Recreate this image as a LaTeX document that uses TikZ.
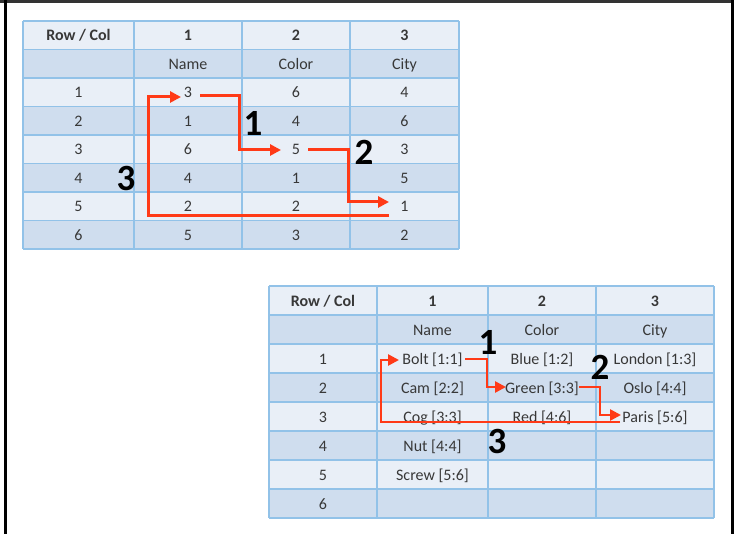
\documentclass[tikz,border=0pt]{standalone}
\usepackage{fontspec}
\setmainfont{Carlito}
\usetikzlibrary{arrows.meta}
\definecolor{lightrow}{HTML}{E9EFF7}
\definecolor{darkrow}{HTML}{CFDDEE}
\definecolor{gridblue}{HTML}{92C2E8}
\definecolor{arrowred}{HTML}{FF3A17}
\definecolor{celltext}{HTML}{383838}
\tikzset{
  cell/.style={anchor=base, inner sep=0pt, text=celltext, font=\fontsize{16bp}{19bp}\selectfont},
  headcell/.style={cell, font=\fontsize{16bp}{19bp}\selectfont\bfseries},
  steplabel/.style={inner sep=0pt, font=\fontsize{37bp}{44bp}\selectfont\bfseries, text=black},
  flow/.style={draw=arrowred, line width=3bp, -{Triangle[length=11bp,width=11bp]}},
  flowb/.style={flow, line width=2.6bp},
  gridline/.style={draw=gridblue, line width=1.6bp},
}
\begin{document}
\begin{tikzpicture}[x=1bp,y=-1bp]
\useasboundingbox (0,0) rectangle (737,534);
\fill[white] (0,0) rectangle (737,534);
% frame
\draw[line width=2.7bp, black!80] (0,1.3) -- (733,1.3);
\draw[line width=2.6bp] (5.3,0) -- (5.3,534);
\draw[line width=2.6bp] (732.7,0) -- (732.7,534);

% ---------- top table ----------
\foreach \i in {0,2,4,6} \fill[lightrow] (23,{21+28.5*\i}) rectangle (459,{49.5+28.5*\i});
\foreach \i in {1,3,5,7} \fill[darkrow] (23,{21+28.5*\i}) rectangle (459,{49.5+28.5*\i});
\foreach \k in {0,...,8} \draw[gridline] (23,{21+28.5*\k}) -- (459,{21+28.5*\k});
\foreach \x in {23,134,242,350,459} \draw[gridline] (\x,21) -- (\x,249);

\node[headcell] (A00) at (78.5,40.8) {Row / Col};
\node[headcell] (A01) at (188,40.8) {1};
\node[headcell] (A02) at (296,40.8) {2};
\node[headcell] (A03) at (404.5,40.8) {3};
\node[cell] (A11) at (188,69.3) {Name};
\node[cell] (A12) at (296,69.3) {Color};
\node[cell] (A13) at (404.5,69.3) {City};
\foreach \i/\a/\b/\c in {2/3/6/4, 3/1/4/6, 4/6/5/3, 5/4/1/5, 6/2/2/1, 7/5/3/2} {
  \pgfmathsetmacro\yb{21+28.5*\i+19.8}
  \pgfmathtruncatemacro\rn{\i-1}
  \node[cell] (A\i0) at (78.5,\yb) {\rn};
  \node[cell] (A\i1) at (188,\yb) {\a};
  \node[cell] (A\i2) at (296,\yb) {\b};
  \node[cell] (A\i3) at (404.5,\yb) {\c};
}
% top arrows
\coordinate (ta1s) at (200,96);  \coordinate (ta1e) at (281,150);
\coordinate (ta2s) at (308,150); \coordinate (ta2e) at (389,202);
\coordinate (ta3s) at (389,216); \coordinate (ta3e) at (181,97);
\draw[flow] (ta1s) -| (239,150) -- (ta1e);
\draw[flow] (ta2s) -| (348,202) -- (ta2e);
\draw[flow] (ta3s) -| (148,97) -- (ta3e);
\node[steplabel] (tl1) at (253,123) {1};
\node[steplabel] (tl2) at (364,152) {2};
\node[steplabel] (tl3) at (126,178) {3};

% ---------- bottom table ----------
\foreach \i in {0,2,4,6} \fill[lightrow] (269,{286+29*\i}) rectangle (714,{315+29*\i});
\foreach \i in {1,3,5,7} \fill[darkrow] (269,{286+29*\i}) rectangle (714,{315+29*\i});
\foreach \k in {0,...,8} \draw[gridline] (269,{286+29*\k}) -- (714,{286+29*\k});
\foreach \x in {269,377,488,596,714} \draw[gridline] (\x,286) -- (\x,518);

\node[headcell] (B00) at (323,306) {Row / Col};
\node[headcell] (B01) at (432.5,306) {1};
\node[headcell] (B02) at (542,306) {2};
\node[headcell] (B03) at (655,306) {3};
\node[cell] (B11) at (432.5,335) {Name};
\node[cell] (B12) at (542,335) {Color};
\node[cell] (B13) at (655,335) {City};
\foreach \i/\a/\b/\c in {2/Bolt [1:1]/Blue [1:2]/London [1:3], 3/Cam [2:2]/Green [3:3]/Oslo [4:4], 4/Cog [3:3]/Red [4:6]/Paris [5:6], 5/Nut [4:4]//, 6/Screw [5:6]//, 7///} {
  \pgfmathsetmacro\yb{286+29*\i+20}
  \pgfmathtruncatemacro\rn{\i-1}
  \node[cell] (B\i0) at (323,\yb) {\rn};
  \node[cell] (B\i1) at (432.5,\yb) {\a};
  \node[cell] (B\i2) at (542,\yb) {\b};
  \node[cell] (B\i3) at (655,\yb) {\c};
}
% bottom arrows
\coordinate (ba1s) at (465,359); \coordinate (ba1e) at (506,387);
\coordinate (ba2s) at (579,387); \coordinate (ba2e) at (621,415);
\coordinate (ba3s) at (620,422); \coordinate (ba3e) at (399,360);
\draw[flowb] (ba1s) -| (487,387) -- (ba1e);
\draw[flowb] (ba2s) -| (600,415) -- (ba2e);
\draw[flowb] (ba3s) -| (381,360) -- (ba3e);
\node[steplabel] (bl1) at (488,342) {1};
\node[steplabel] (bl2) at (600,367) {2};
\node[steplabel] (bl3) at (497,441) {3};
\end{tikzpicture}
\end{document}
